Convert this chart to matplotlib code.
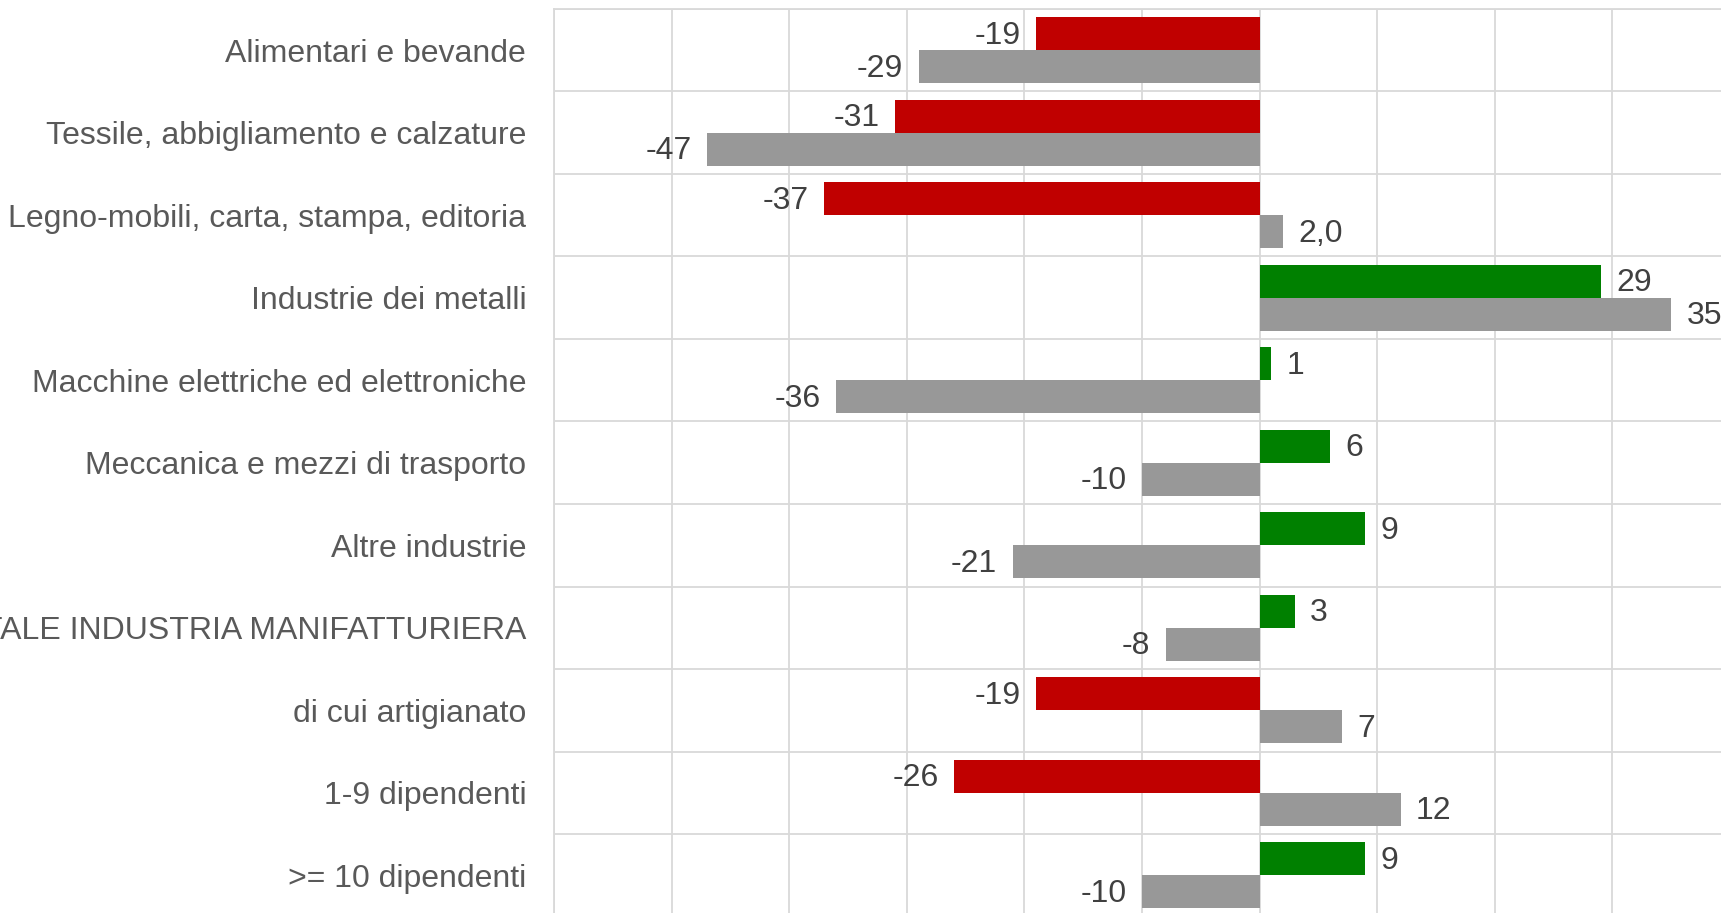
import numpy as np
import matplotlib
matplotlib.use('Agg')
import matplotlib.pyplot as plt
from matplotlib.ticker import MultipleLocator, FixedLocator

plt.rcParams['font.family'] = ['Liberation Sans', 'DejaVu Sans']

# Categories, top to bottom.
categories = [
    'Alimentari e bevande',
    'Tessile, abbigliamento e calzature',
    'Legno-mobili, carta, stampa, editoria',
    'Industrie dei metalli',
    'Macchine elettriche ed elettroniche',
    'Meccanica e mezzi di trasporto',
    'Altre industrie',
    'TOTALE INDUSTRIA MANIFATTURIERA',
    'di cui artigianato',
    '1-9 dipendenti',
    '>= 10 dipendenti',
]
# Upper bar of each pair (red when negative, green when positive).
series_main = [-19, -31, -37, 29, 1, 6, 9, 3, -19, -26, 9]
# Lower, grey bar of each pair.
series_grey = [-29, -47, 2.0, 35, -36, -10, -21, -8, 7, 12, -10]
# Decimals shown in the grey labels.
grey_decimals = [0, 0, 1, 0, 0, 0, 0, 0, 0, 0, 0]

RED = '#c00000'
GREEN = '#008000'
GREY = '#989898'
GRID = '#d9d9d9'
LABEL = '#595959'
VALUE = '#404040'


def fmt(v, d=0):
    return f'{v:.{d}f}'.replace('.', ',')


fig = plt.figure(figsize=(17.21, 9.13), dpi=100)
# The chart is cropped on the right and at the bottom, as in the original.
ax = fig.add_axes([554 / 1721, -3.5 / 913, 1176 / 1721, 907.5 / 913])

y = np.arange(len(categories))
main_colors = [RED if v < 0 else GREEN for v in series_main]
bars1 = ax.barh(y - 0.2, series_main, height=0.4, color=main_colors, zorder=3)
bars2 = ax.barh(y + 0.2, series_grey, height=0.4, color=GREY, zorder=3)

ax.set_xlim(-60, 40)
ax.set_ylim(len(categories) - 0.5, -0.5)

# Value labels just outside the end of each bar.
for bars, vals, decs in ((bars1, series_main, [0] * len(series_main)),
                         (bars2, series_grey, grey_decimals)):
    for b, v, d in zip(bars, vals, decs):
        yc = b.get_y() + b.get_height() / 2
        off = -11 if v < 0 else 11
        ax.annotate(fmt(v, d), (v, yc), xytext=(off, -1.5), textcoords='offset points',
                    ha='right' if v < 0 else 'left', va='center',
                    fontsize=23, color=VALUE, annotation_clip=False, zorder=4)

# Grid: vertical every 10, horizontal between categories.
ax.xaxis.set_major_locator(MultipleLocator(10))
ax.yaxis.set_major_locator(FixedLocator(y))
ax.yaxis.set_minor_locator(FixedLocator(np.arange(-0.5, len(categories), 1.0)))
ax.grid(axis='x', which='major', color=GRID, lw=1.3, zorder=0)
ax.grid(axis='y', which='minor', color=GRID, lw=1.3, zorder=0)
ax.set_axisbelow(True)

ax.set_yticklabels(categories, fontsize=23, color=LABEL)
ax.tick_params(axis='y', which='both', length=0, pad=20)
ax.tick_params(axis='x', which='both', length=0, labelbottom=False)
for s in ax.spines.values():
    s.set_color(GRID)
    s.set_linewidth(1.3)

fig.savefig('out.png', dpi=100)
